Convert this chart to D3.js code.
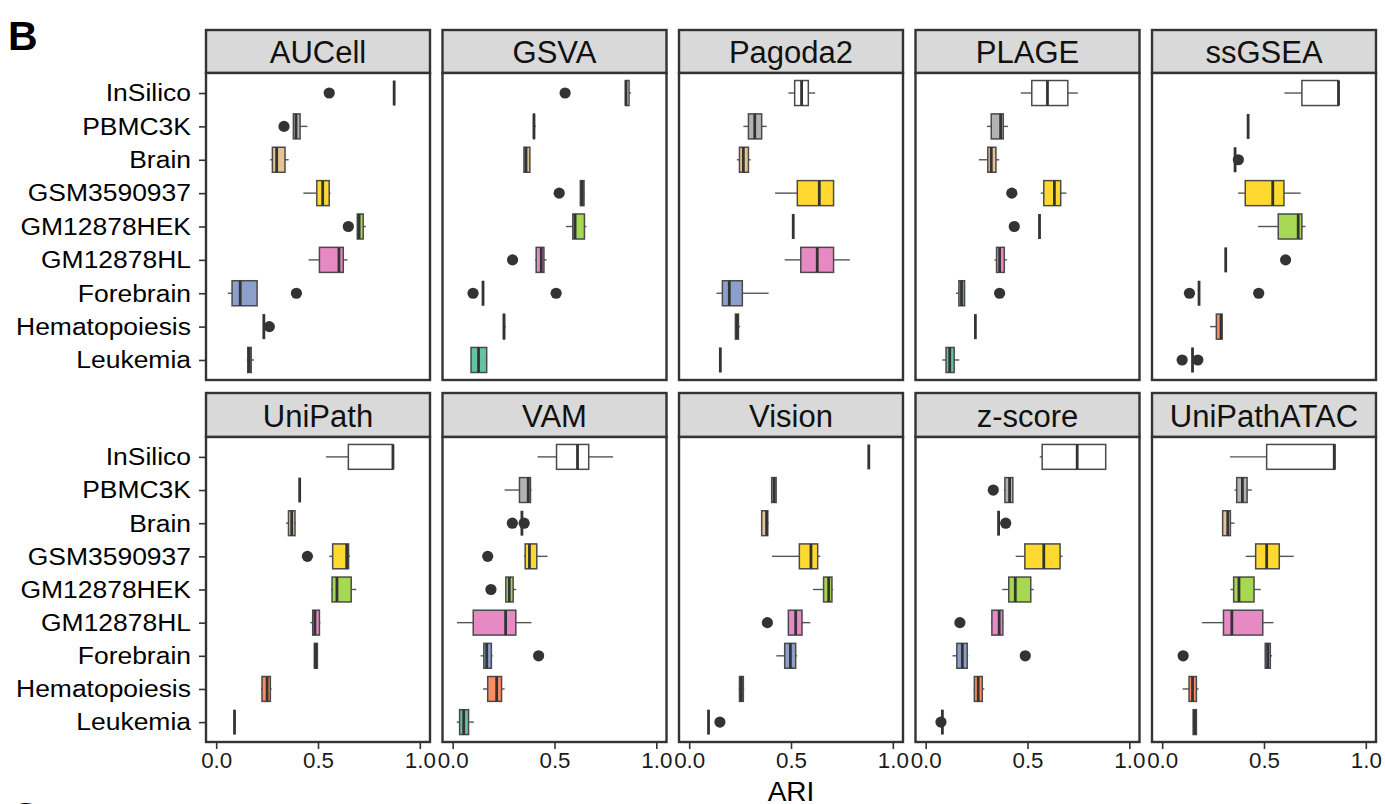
<!DOCTYPE html>
<html>
<head>
<meta charset="utf-8">
<script src="https://cdn.jsdelivr.net/npm/d3@7"></script>
<style>
  html, body { margin: 0; padding: 0; background: #fff; }
  svg { display: block; font-family: "Liberation Sans", Arial, Helvetica, sans-serif; }
</style>
</head>
<body>
<svg id="chart" width="1385" height="804"></svg>
<script>
// Datasets (rows, top to bottom) and their fill colours
const datasets = ["InSilico", "PBMC3K", "Brain", "GSM3590937", "GM12878HEK",
                  "GM12878HL", "Forebrain", "Hematopoiesis", "Leukemia"];
const fills = ["#FFFFFF", "#B3B3B3", "#E5C494", "#FFD92F", "#A6D854",
               "#E78AC3", "#8DA0CB", "#FC8D62", "#66C2A5"];

// Facet order
const methods = ["AUCell", "GSVA", "Pagoda2", "PLAGE", "ssGSEA",
                 "UniPath", "VAM", "Vision", "z-score", "UniPathATAC"];

// x-axis ticks
const xTicks = [0, 0.5, 1.0];
const xTickLabels = ["0.0", "0.5", "1.0"];

// Box statistics per dataset: [lower whisker, Q1, median, Q3, upper whisker, outliers]
const AUCell = [
  [0.874, 0.874, 0.874, 0.874, 0.874, [0.555]],
  [0.379, 0.379, 0.392, 0.412, 0.448, [0.333]],
  [0.265, 0.276, 0.297, 0.338, 0.356, []],
  [0.428, 0.494, 0.523, 0.555, 0.562, []],
  [0.693, 0.693, 0.702, 0.722, 0.735, [0.649]],
  [0.454, 0.507, 0.603, 0.624, 0.645, []],
  [0.057, 0.078, 0.118, 0.201, 0.201, [0.394]],
  [0.234, 0.234, 0.234, 0.234, 0.234, [0.261]],
  [0.150, 0.155, 0.162, 0.172, 0.186, []]
];
const GSVA = [
  [0.848, 0.848, 0.852, 0.866, 0.876, [0.552]],
  [0.399, 0.399, 0.399, 0.401, 0.408, []],
  [0.347, 0.350, 0.360, 0.379, 0.381, []],
  [0.627, 0.627, 0.636, 0.645, 0.647, [0.523]],
  [0.556, 0.590, 0.601, 0.647, 0.657, []],
  [0.405, 0.410, 0.435, 0.448, 0.461, [0.294]],
  [0.149, 0.149, 0.149, 0.149, 0.149, [0.100, 0.508]],
  [0.250, 0.250, 0.252, 0.254, 0.261, []],
  [0.090, 0.090, 0.127, 0.167, 0.170, []]
];
const Pagoda2 = [
  [0.487, 0.518, 0.552, 0.585, 0.619, []],
  [0.266, 0.291, 0.322, 0.356, 0.381, []],
  [0.234, 0.247, 0.266, 0.291, 0.302, []],
  [0.422, 0.531, 0.639, 0.709, 0.709, []],
  [0.511, 0.511, 0.511, 0.511, 0.511, []],
  [0.469, 0.548, 0.629, 0.709, 0.789, []],
  [0.134, 0.163, 0.197, 0.261, 0.390, []],
  [0.227, 0.227, 0.235, 0.242, 0.250, []],
  [0.153, 0.153, 0.153, 0.153, 0.153, []]
];
const PLAGE = [
  [0.467, 0.521, 0.598, 0.698, 0.747, []],
  [0.301, 0.322, 0.368, 0.381, 0.404, []],
  [0.261, 0.305, 0.322, 0.345, 0.361, []],
  [0.565, 0.580, 0.632, 0.663, 0.691, [0.423]],
  [0.559, 0.559, 0.559, 0.559, 0.559, [0.435]],
  [0.338, 0.348, 0.363, 0.386, 0.400, []],
  [0.149, 0.163, 0.176, 0.191, 0.191, [0.363]],
  [0.238, 0.244, 0.244, 0.244, 0.244, []],
  [0.082, 0.100, 0.118, 0.140, 0.165, []]
];
const ssGSEA = [
  [0.600, 0.686, 0.866, 0.866, 0.866, []],
  [0.422, 0.422, 0.422, 0.422, 0.422, []],
  [0.358, 0.358, 0.358, 0.358, 0.358, [0.374]],
  [0.373, 0.408, 0.543, 0.598, 0.680, []],
  [0.471, 0.570, 0.668, 0.686, 0.704, []],
  [0.312, 0.312, 0.312, 0.312, 0.312, [0.606]],
  [0.181, 0.181, 0.181, 0.181, 0.181, [0.134, 0.474]],
  [0.235, 0.266, 0.289, 0.294, 0.294, []],
  [0.149, 0.149, 0.149, 0.149, 0.149, [0.098, 0.175]]
];
const UniPath = [
  [0.539, 0.649, 0.868, 0.868, 0.868, []],
  [0.410, 0.410, 0.410, 0.410, 0.410, []],
  [0.343, 0.355, 0.371, 0.387, 0.392, []],
  [0.555, 0.572, 0.641, 0.650, 0.657, [0.448]],
  [0.564, 0.569, 0.593, 0.663, 0.688, []],
  [0.462, 0.474, 0.485, 0.507, 0.512, []],
  [0.480, 0.482, 0.489, 0.497, 0.499, []],
  [0.220, 0.225, 0.250, 0.266, 0.272, []],
  [0.090, 0.090, 0.090, 0.090, 0.090, []]
];
const VAM = [
  [0.417, 0.510, 0.613, 0.668, 0.788, []],
  [0.255, 0.328, 0.371, 0.382, 0.387, []],
  [0.340, 0.340, 0.340, 0.340, 0.340, [0.293, 0.351]],
  [0.350, 0.356, 0.377, 0.413, 0.466, [0.172]],
  [0.261, 0.261, 0.278, 0.297, 0.312, [0.188]],
  [0.021, 0.101, 0.260, 0.310, 0.387, []],
  [0.137, 0.153, 0.167, 0.190, 0.196, [0.422]],
  [0.149, 0.172, 0.216, 0.240, 0.255, []],
  [0.020, 0.034, 0.054, 0.078, 0.104, []]
];
const Vision = [
  [0.882, 0.882, 0.882, 0.882, 0.882, []],
  [0.405, 0.405, 0.417, 0.427, 0.427, []],
  [0.356, 0.356, 0.380, 0.386, 0.390, []],
  [0.407, 0.541, 0.598, 0.631, 0.644, []],
  [0.608, 0.660, 0.685, 0.701, 0.707, []],
  [0.487, 0.487, 0.523, 0.554, 0.595, [0.384]],
  [0.428, 0.469, 0.497, 0.523, 0.530, []],
  [0.243, 0.247, 0.256, 0.266, 0.270, []],
  [0.095, 0.095, 0.095, 0.095, 0.095, [0.151]]
];
const zScore = [
  [0.560, 0.572, 0.744, 0.884, 0.884, []],
  [0.384, 0.389, 0.412, 0.428, 0.428, [0.332]],
  [0.358, 0.358, 0.358, 0.358, 0.358, [0.393]],
  [0.442, 0.487, 0.580, 0.660, 0.672, []],
  [0.376, 0.408, 0.440, 0.516, 0.531, []],
  [0.320, 0.325, 0.361, 0.379, 0.382, [0.168]],
  [0.132, 0.153, 0.180, 0.204, 0.209, [0.489]],
  [0.236, 0.239, 0.258, 0.278, 0.288, []],
  [0.082, 0.082, 0.082, 0.082, 0.082, [0.075]]
];
const UniPathATAC = [
  [0.333, 0.513, 0.845, 0.848, 0.848, []],
  [0.355, 0.366, 0.394, 0.417, 0.440, []],
  [0.297, 0.297, 0.322, 0.335, 0.355, []],
  [0.410, 0.459, 0.513, 0.575, 0.646, []],
  [0.335, 0.351, 0.377, 0.451, 0.484, []],
  [0.196, 0.301, 0.342, 0.494, 0.546, []],
  [0.506, 0.506, 0.518, 0.531, 0.540, [0.103]],
  [0.100, 0.132, 0.149, 0.168, 0.179, []],
  [0.152, 0.152, 0.160, 0.168, 0.170, []]
];

const statsByMethod = [AUCell, GSVA, Pagoda2, PLAGE, ssGSEA,
                       UniPath, VAM, Vision, zScore, UniPathATAC];

// ---- layout ----
const svg = d3.select("#chart");
const ncol = 5;
const panelW = 224, colStep = 236.5, firstLeft = 206;
const rows = [
  { stripTop: 30, panelTop: 73, panelBottom: 380 },
  { stripTop: 393, panelTop: 437, panelBottom: 742 }
];
const dark = "#333333";
const colour = d3.scaleOrdinal().domain(datasets).range(fills);

methods.forEach((m, idx) => {
  const r = Math.floor(idx / ncol), c = idx % ncol;
  const row = rows[r];
  const left = firstLeft + c * colStep;
  const x = d3.scaleLinear().domain([-0.05, 1.05]).range([left, left + panelW]);
  const y = d3.scalePoint().domain(datasets)
    .range([row.panelTop, row.panelBottom]).padding(0.6);
  const boxH = y.step() * 0.75;
  const g = svg.append("g");

  // strip
  g.append("rect")
    .attr("x", left).attr("y", row.stripTop)
    .attr("width", panelW).attr("height", row.panelTop - row.stripTop)
    .attr("fill", "#D9D9D9").attr("stroke", dark).attr("stroke-width", 2.4);
  g.append("text")
    .attr("x", left + panelW / 2).attr("y", (row.stripTop + row.panelTop) / 2 + 1)
    .attr("text-anchor", "middle").attr("dominant-baseline", "central")
    .attr("font-size", 31).attr("fill", "#111").text(m);

  // panel background
  g.append("rect")
    .attr("x", left).attr("y", row.panelTop)
    .attr("width", panelW).attr("height", row.panelBottom - row.panelTop)
    .attr("fill", "#fff");

  const stats = statsByMethod[idx];
  datasets.forEach((d, i) => {
    const [lo, q1, med, q3, hi, out] = stats[i];
    const cy = y(d);
    // whiskers
    g.append("line").attr("x1", x(lo)).attr("x2", x(q1)).attr("y1", cy).attr("y2", cy)
      .attr("stroke", "#555").attr("stroke-width", 1.4);
    g.append("line").attr("x1", x(q3)).attr("x2", x(hi)).attr("y1", cy).attr("y2", cy)
      .attr("stroke", "#555").attr("stroke-width", 1.4);
    // box
    g.append("rect")
      .attr("x", x(q1)).attr("y", cy - boxH / 2)
      .attr("width", Math.max(0, x(q3) - x(q1))).attr("height", boxH)
      .attr("fill", colour(d)).attr("stroke", "#4a4a4a").attr("stroke-width", 1.5);
    // median
    g.append("line").attr("x1", x(med)).attr("x2", x(med))
      .attr("y1", cy - boxH / 2).attr("y2", cy + boxH / 2)
      .attr("stroke", dark).attr("stroke-width", 2.8);
    // outliers
    out.forEach(v => {
      g.append("circle").attr("cx", x(v)).attr("cy", cy).attr("r", 5.6).attr("fill", dark);
    });
  });

  // panel border
  g.append("rect")
    .attr("x", left).attr("y", row.panelTop)
    .attr("width", panelW).attr("height", row.panelBottom - row.panelTop)
    .attr("fill", "none").attr("stroke", dark).attr("stroke-width", 2.4);

  // y axis on the first column
  if (c === 0) {
    const ay = svg.append("g").attr("transform", `translate(${left - 1},0)`)
      .call(d3.axisLeft(y).tickSize(6).tickPadding(7));
    ay.select(".domain").remove();
    ay.selectAll(".tick line").attr("stroke", dark).attr("stroke-width", 1.6);
    ay.selectAll(".tick text").attr("font-size", 24.5).attr("fill", "#000")
      .attr("font-family", "Liberation Sans, Arial, sans-serif")
      .attr("transform", "scale(1.08,1)");
  }
  // x axis on the bottom row
  if (r === 1) {
    const ax = svg.append("g").attr("transform", `translate(0,${row.panelBottom + 1})`)
      .call(d3.axisBottom(x).tickValues(xTicks).tickSize(6).tickPadding(4)
        .tickFormat((v, i) => xTickLabels[i]));
    ax.select(".domain").remove();
    ax.selectAll(".tick line").attr("stroke", dark).attr("stroke-width", 1.6);
    ax.selectAll(".tick text").attr("font-size", 21.5).attr("fill", "#1a1a1a")
      .attr("font-family", "Liberation Sans, Arial, sans-serif")
      .attr("transform", "scale(1.04,1)");
  }
});

// axis title
svg.append("text")
  .attr("x", firstLeft + (4 * colStep + panelW) / 2).attr("y", 801)
  .attr("text-anchor", "middle").attr("font-size", 28).attr("fill", "#000").text("ARI");

// panel tags
svg.append("text").attr("x", 8).attr("y", 50).attr("font-size", 41)
  .attr("font-weight", "bold").attr("fill", "#000").text("B");
svg.append("text").attr("x", 10).attr("y", 831).attr("font-size", 41)
  .attr("font-weight", "bold").attr("fill", "#000").text("C");
</script>
</body>
</html>
